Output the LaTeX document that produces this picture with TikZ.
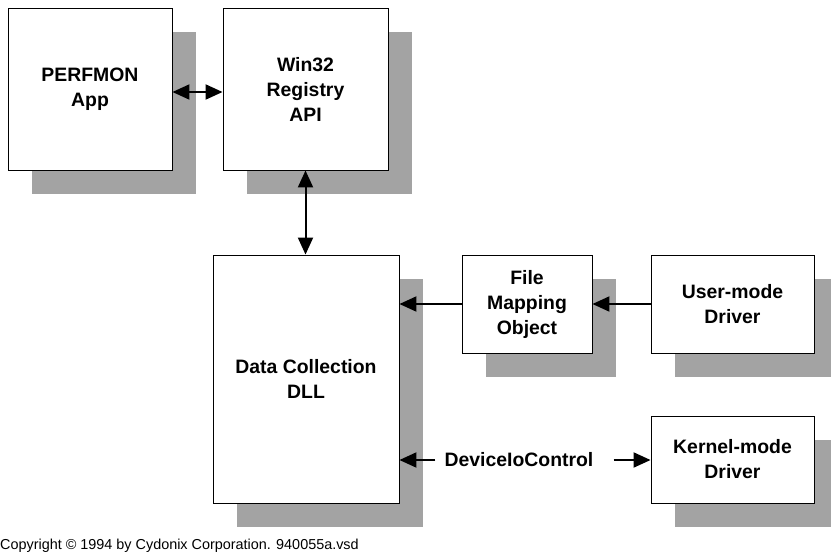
\documentclass[tikz,border=0pt]{standalone}
\usepackage{fontspec}
\setmainfont{Liberation Sans}
\usetikzlibrary{arrows.meta, shadows}

\begin{document}
\begin{tikzpicture}[x=1pt, y=-1pt,
  >={Triangle[length=17pt,width=15pt]},
  block/.style={draw, line width=0.9pt, fill=white, align=center, inner sep=0pt,
    font=\fontsize{19.4}{25}\selectfont\bfseries,
    drop shadow={shadow xshift=24pt, shadow yshift=-24pt, fill=black!36, opacity=1}},
  link/.style={line width=2pt}]
  \useasboundingbox (0,0) rectangle (831,555);
  % boxes
  \node[block, minimum width=164pt, minimum height=162pt] (perfmon) at (90,89) {PERFMON\\App};
  \node[block, minimum width=165pt, minimum height=162pt] (win32) at (305.5,89) {Win32\\Registry\\API};
  \node[block, minimum width=186pt, minimum height=248pt] (dll) at (306,379) {Data Collection\\DLL};
  \node[block, minimum width=130pt, minimum height=98pt] (fmo) at (527,304) {File\\Mapping\\Object};
  \node[block, minimum width=163pt, minimum height=98pt] (user) at (732.5,304) {User-mode\\Driver};
  \node[block, minimum width=163pt, minimum height=87pt] (kernel) at (732.5,459.5) {Kernel-mode\\Driver};
  \node[font=\fontsize{19.4}{25}\selectfont\bfseries, inner sep=9pt] (ioctl) at (519,460) {DeviceIoControl};
  % arrows
  \draw[link, <->] ([yshift=-3pt]perfmon.east) -- ([yshift=-3pt]win32.west);
  \draw[link, <->] (win32.south) -- (win32.south |- dll.north);
  \draw[link, ->] (fmo.west) -- (dll.east |- fmo.west);
  \draw[link, ->] (user.west) -- (fmo.east);
  \draw[link, ->] (ioctl.west) -- (dll.east |- ioctl.west);
  \draw[link, ->, shorten <=11pt] (ioctl.east) -- (kernel.west |- ioctl.east);
  \node[anchor=base west, inner sep=0pt, font=\fontsize{14.4}{16}\selectfont] (copy) at (0,549)
    {Copyright © 1994 by Cydonix Corporation. 940055a.vsd};
\end{tikzpicture}
\end{document}
